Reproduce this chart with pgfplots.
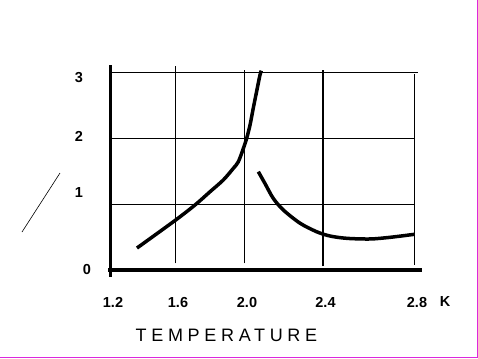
\documentclass[border=0pt]{standalone}
\usepackage{pgfplots}
\pgfplotsset{compat=1.18}
\usepackage{fontspec}
\setmainfont{Liberation Sans}
\newfontfamily\labelfont[LetterSpace=26]{Liberation Sans}
\definecolor{framecol}{RGB}{220,40,220}

\begin{document}
\begin{tikzpicture}[x=1bp,y=1bp]
\path[use as bounding box] (0,0) rectangle (478,358);
\draw[framecol, line width=1.2bp] (477.4,358) -- (477.4,0.6) -- (0,0.6);
\draw[line width=0.6bp] (22,126) -- (60,185);
\begin{axis}[
  at={(110bp,88bp)}, anchor=south west, scale only axis,
  width=304bp, height=198bp,
  xmin=1.2, xmax=2.8, ymin=0, ymax=3,
  x coord trafo/.code={\pgfmathparse{(#1<1.6) ? (110+(#1-1.2)*162.5) : ((#1<2) ? (175+(#1-1.6)*172.5) : ((#1<2.4) ? (244+(#1-2)*196.25) : (322.5+(#1-2.4)*228.75)))}},
  clip=false,
  axis line style={draw=none},
  major tick length=0pt,
  xtick={1.2,1.6,2.0,2.4,2.8},
  xticklabels={1.2,1.6,2.0,2.4,2.8},
  ytick={0,1,2,3},
  yticklabels={{\hspace*{16bp}0},{\raisebox{11bp}[\height][\depth]{1}},{\raisebox{2bp}[\height][\depth]{2}},{\raisebox{-6bp}[\height][\depth]{3}}},
  ticklabel style={font=\fontsize{14.5bp}{17bp}\selectfont\bfseries},
  xticklabel style={anchor=base, yshift=-37bp, xshift=3bp},
  yticklabel style={anchor=center, xshift=-31bp},
  xlabel={TEMPERATURE},
  xlabel style={at={(axis description cs:0.383,0)}, anchor=center, yshift=-65bp, font=\labelfont\fontsize{18bp}{20bp}\selectfont},
]
% grid
\draw[line width=1bp] (axis cs:1.6,0.1) -- (axis cs:1.6,3.09);
\draw[line width=1bp] (axis cs:2.0,0.1) -- (axis cs:2.0,3.03);
\draw[line width=2bp] (axis cs:2.4,0.06) -- (axis cs:2.4,3.03);
\draw[line width=1bp] (axis cs:2.8,0.08) -- (axis cs:2.8,2.97);
\draw[line width=1bp] (axis cs:1.2,1) -- (axis cs:2.8,1);
\draw[line width=1bp] (axis cs:1.2,2) -- (axis cs:2.8,2);
\draw[line width=1bp] (axis cs:1.2,3) -- (axis cs:2.8175,3);
% axis lines
\draw[line width=3bp] (axis cs:1.2,-0.1) -- (axis cs:1.2,3.1);
\draw[line width=3.5bp] (axis cs:1.19,0) -- (axis cs:2.835,0);
% data
\addplot[black, line width=3.5bp, smooth, tension=0.5] coordinates {
 (1.366,0.333) (1.6,0.75) (1.716,0.985) (1.803,1.186) (1.880,1.364) (1.938,1.54)
 (1.967,1.64) (1.996,1.84) (2.014,2.0) (2.031,2.2) (2.047,2.45) (2.064,2.70)
 (2.081,2.95) (2.088,3.02)};
\addplot[black, line width=3.5bp, smooth, tension=0.5] coordinates {
 (2.073,1.49) (2.107,1.31) (2.149,1.086) (2.200,0.91) (2.285,0.71) (2.370,0.58)
 (2.433,0.515) (2.506,0.48) (2.608,0.47) (2.695,0.495) (2.8,0.54)};
\end{axis}
\node[font=\fontsize{14.5bp}{17bp}\selectfont\bfseries, anchor=center] at (445,56) {K};
\end{tikzpicture}
\end{document}
